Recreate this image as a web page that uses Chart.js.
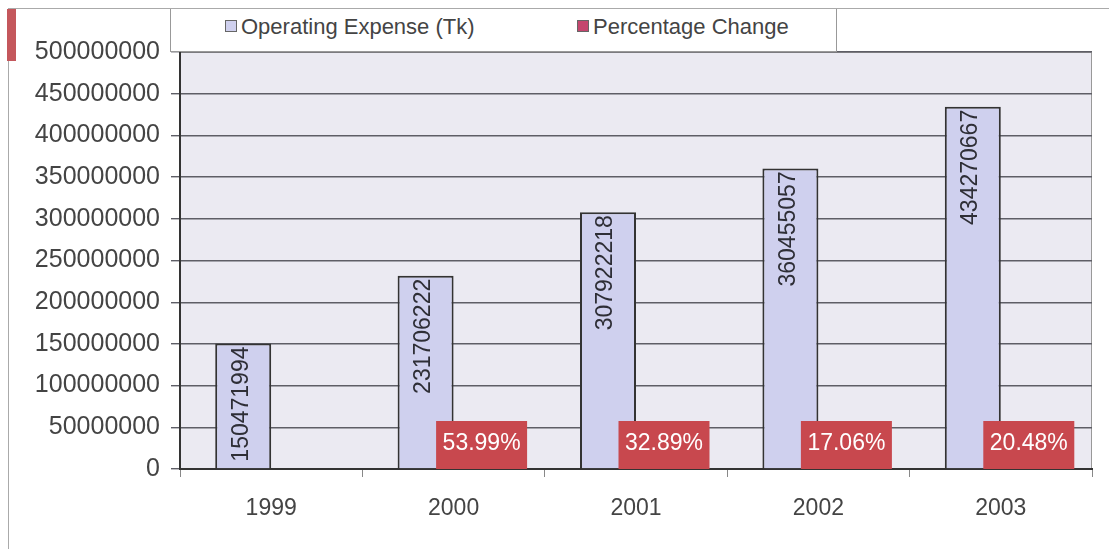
<!DOCTYPE html>
<html>
<head>
<meta charset="utf-8">
<script src="https://cdn.jsdelivr.net/npm/chart.js@4/dist/chart.umd.min.js"></script>
<style>
  body { margin: 0; background: #fff; }
  #wrap { position: relative; width: 1109px; height: 549px; overflow: hidden; }
  #topline { position: absolute; left: 8px; top: 8px; width: 1101px; height: 1px; background: #aaa; }
  #leftline { position: absolute; left: 8px; top: 8px; width: 1px; height: 541px; background: #aaa; }
  #redmark { position: absolute; left: 7px; top: 9px; width: 9px; height: 52px; background: #c4575c; }
  #legend { position: absolute; left: 170px; top: 9px; width: 665px; height: 42px; background: #fff;
    border: 1px solid #999; border-top: none; font-family: "Liberation Sans", Arial, sans-serif;
    font-size: 22px; color: #444; z-index: 2; }
  .item { position: absolute; top: 5px; white-space: nowrap; }
  .mark { display: inline-block; width: 10px; height: 10px; border: 1px solid #666; margin-right: 4px; vertical-align: 2px; }
  canvas { position: absolute; left: 0; top: 0; }
</style>
</head>
<body>
<div id="wrap">
  <div id="topline"></div>
  <div id="leftline"></div>
  <div id="redmark"></div>
  <div id="legend">
    <span class="item" style="left:54px"><span class="mark" style="background:#cfd0ee"></span>Operating Expense (Tk)</span>
    <span class="item" style="left:406px"><span class="mark" style="background:#c4466e"></span>Percentage Change</span>
  </div>
  <canvas id="myChart" width="1109" height="549"></canvas>
</div>
<script>
var years = ["1999", "2000", "2001", "2002", "2003"];
var expense = [150471994, 231706222, 307922218, 360455057, 434270667];
var pctChange = [null, 53.99, 32.89, 17.06, 20.48];
var pctLabels = ["", "53.99%", "32.89%", "17.06%", "20.48%"];
var yMax = 500000000;
var yStep = 50000000;

var font = "Liberation Sans, Arial, sans-serif";

// plot background and right/top border
var plotBack = {
    id: "plotBack",
    beforeDraw: function (chart) {
        var ctx = chart.ctx, a = chart.chartArea;
        ctx.save();
        ctx.fillStyle = "#ebeaf2";
        ctx.fillRect(a.left, a.top, a.right - a.left, a.bottom - a.top);
        ctx.strokeStyle = "#999";
        ctx.lineWidth = 1;
        ctx.strokeRect(a.left + 0.5, a.top + 0.5, a.right - a.left - 1, a.bottom - a.top);
        ctx.restore();
    }
};

// value labels: rotated numbers in expense bars, red boxes for percentage change
var barLabels = {
    id: "barLabels",
    afterDatasetsDraw: function (chart) {
        var ctx = chart.ctx;
        var m0 = chart.getDatasetMeta(0);
        var m1 = chart.getDatasetMeta(1);
        ctx.save();
        m0.data.forEach(function (bar, i) {
            ctx.save();
            ctx.translate(bar.x - 2, bar.y + 3);
            ctx.rotate(-Math.PI / 2);
            ctx.font = "23px " + font;
            ctx.fillStyle = "#2e2e36";
            ctx.textAlign = "right";
            ctx.textBaseline = "middle";
            ctx.fillText(String(expense[i]), 0, 0);
            ctx.restore();
        });
        var base = chart.scales.y.getPixelForValue(0);
        m1.data.forEach(function (bar, i) {
            if (!pctLabels[i]) return;
            var w = 91, h = 48;
            ctx.fillStyle = "#c8484e";
            ctx.fillRect(bar.x - w / 2, base - h, w, h);
            ctx.font = "23px " + font;
            ctx.fillStyle = "#fff";
            ctx.textAlign = "center";
            ctx.textBaseline = "middle";
            ctx.fillText(pctLabels[i], bar.x, base - 25);
        });
        ctx.restore();
    }
};

new Chart("myChart", {
    type: "bar",
    data: {
        labels: years,
        datasets: [{
            label: "Operating Expense (Tk)",
            data: expense,
            backgroundColor: "#cfd0ee",
            borderColor: "#333",
            borderWidth: 2,
            borderSkipped: "bottom"
        }, {
            label: "Percentage Change",
            data: pctChange,
            backgroundColor: "#c8484e",
            borderColor: "#222",
            borderWidth: 1
        }]
    },
    options: {
        responsive: false,
        animation: false,
        layout: { padding: { top: 52, right: 17, left: 0, bottom: 0 } },
        datasets: { bar: { categoryPercentage: 0.614, barPercentage: 1 } },
        plugins: { legend: { display: false }, tooltip: { enabled: false } },
        scales: {
            x: {
                afterFit: function (s) { s.height = 80; },
                grid: { drawOnChartArea: false, color: "#888", tickLength: 8 },
                border: { color: "#333", width: 2 },
                ticks: { font: { family: font, size: 23 }, color: "#444", padding: 18 }
            },
            y: {
                min: 0,
                max: yMax,
                afterFit: function (s) { s.width = 180; },
                grid: { color: "#5e5e66", lineWidth: 1.4, tickLength: 9 },
                border: { color: "#333", width: 2 },
                ticks: {
                    stepSize: yStep,
                    font: { family: font, size: 25 },
                    color: "#444",
                    padding: 11,
                    callback: function (v) { return String(v); }
                }
            }
        }
    },
    plugins: [plotBack, barLabels]
});
</script>
</body>
</html>
